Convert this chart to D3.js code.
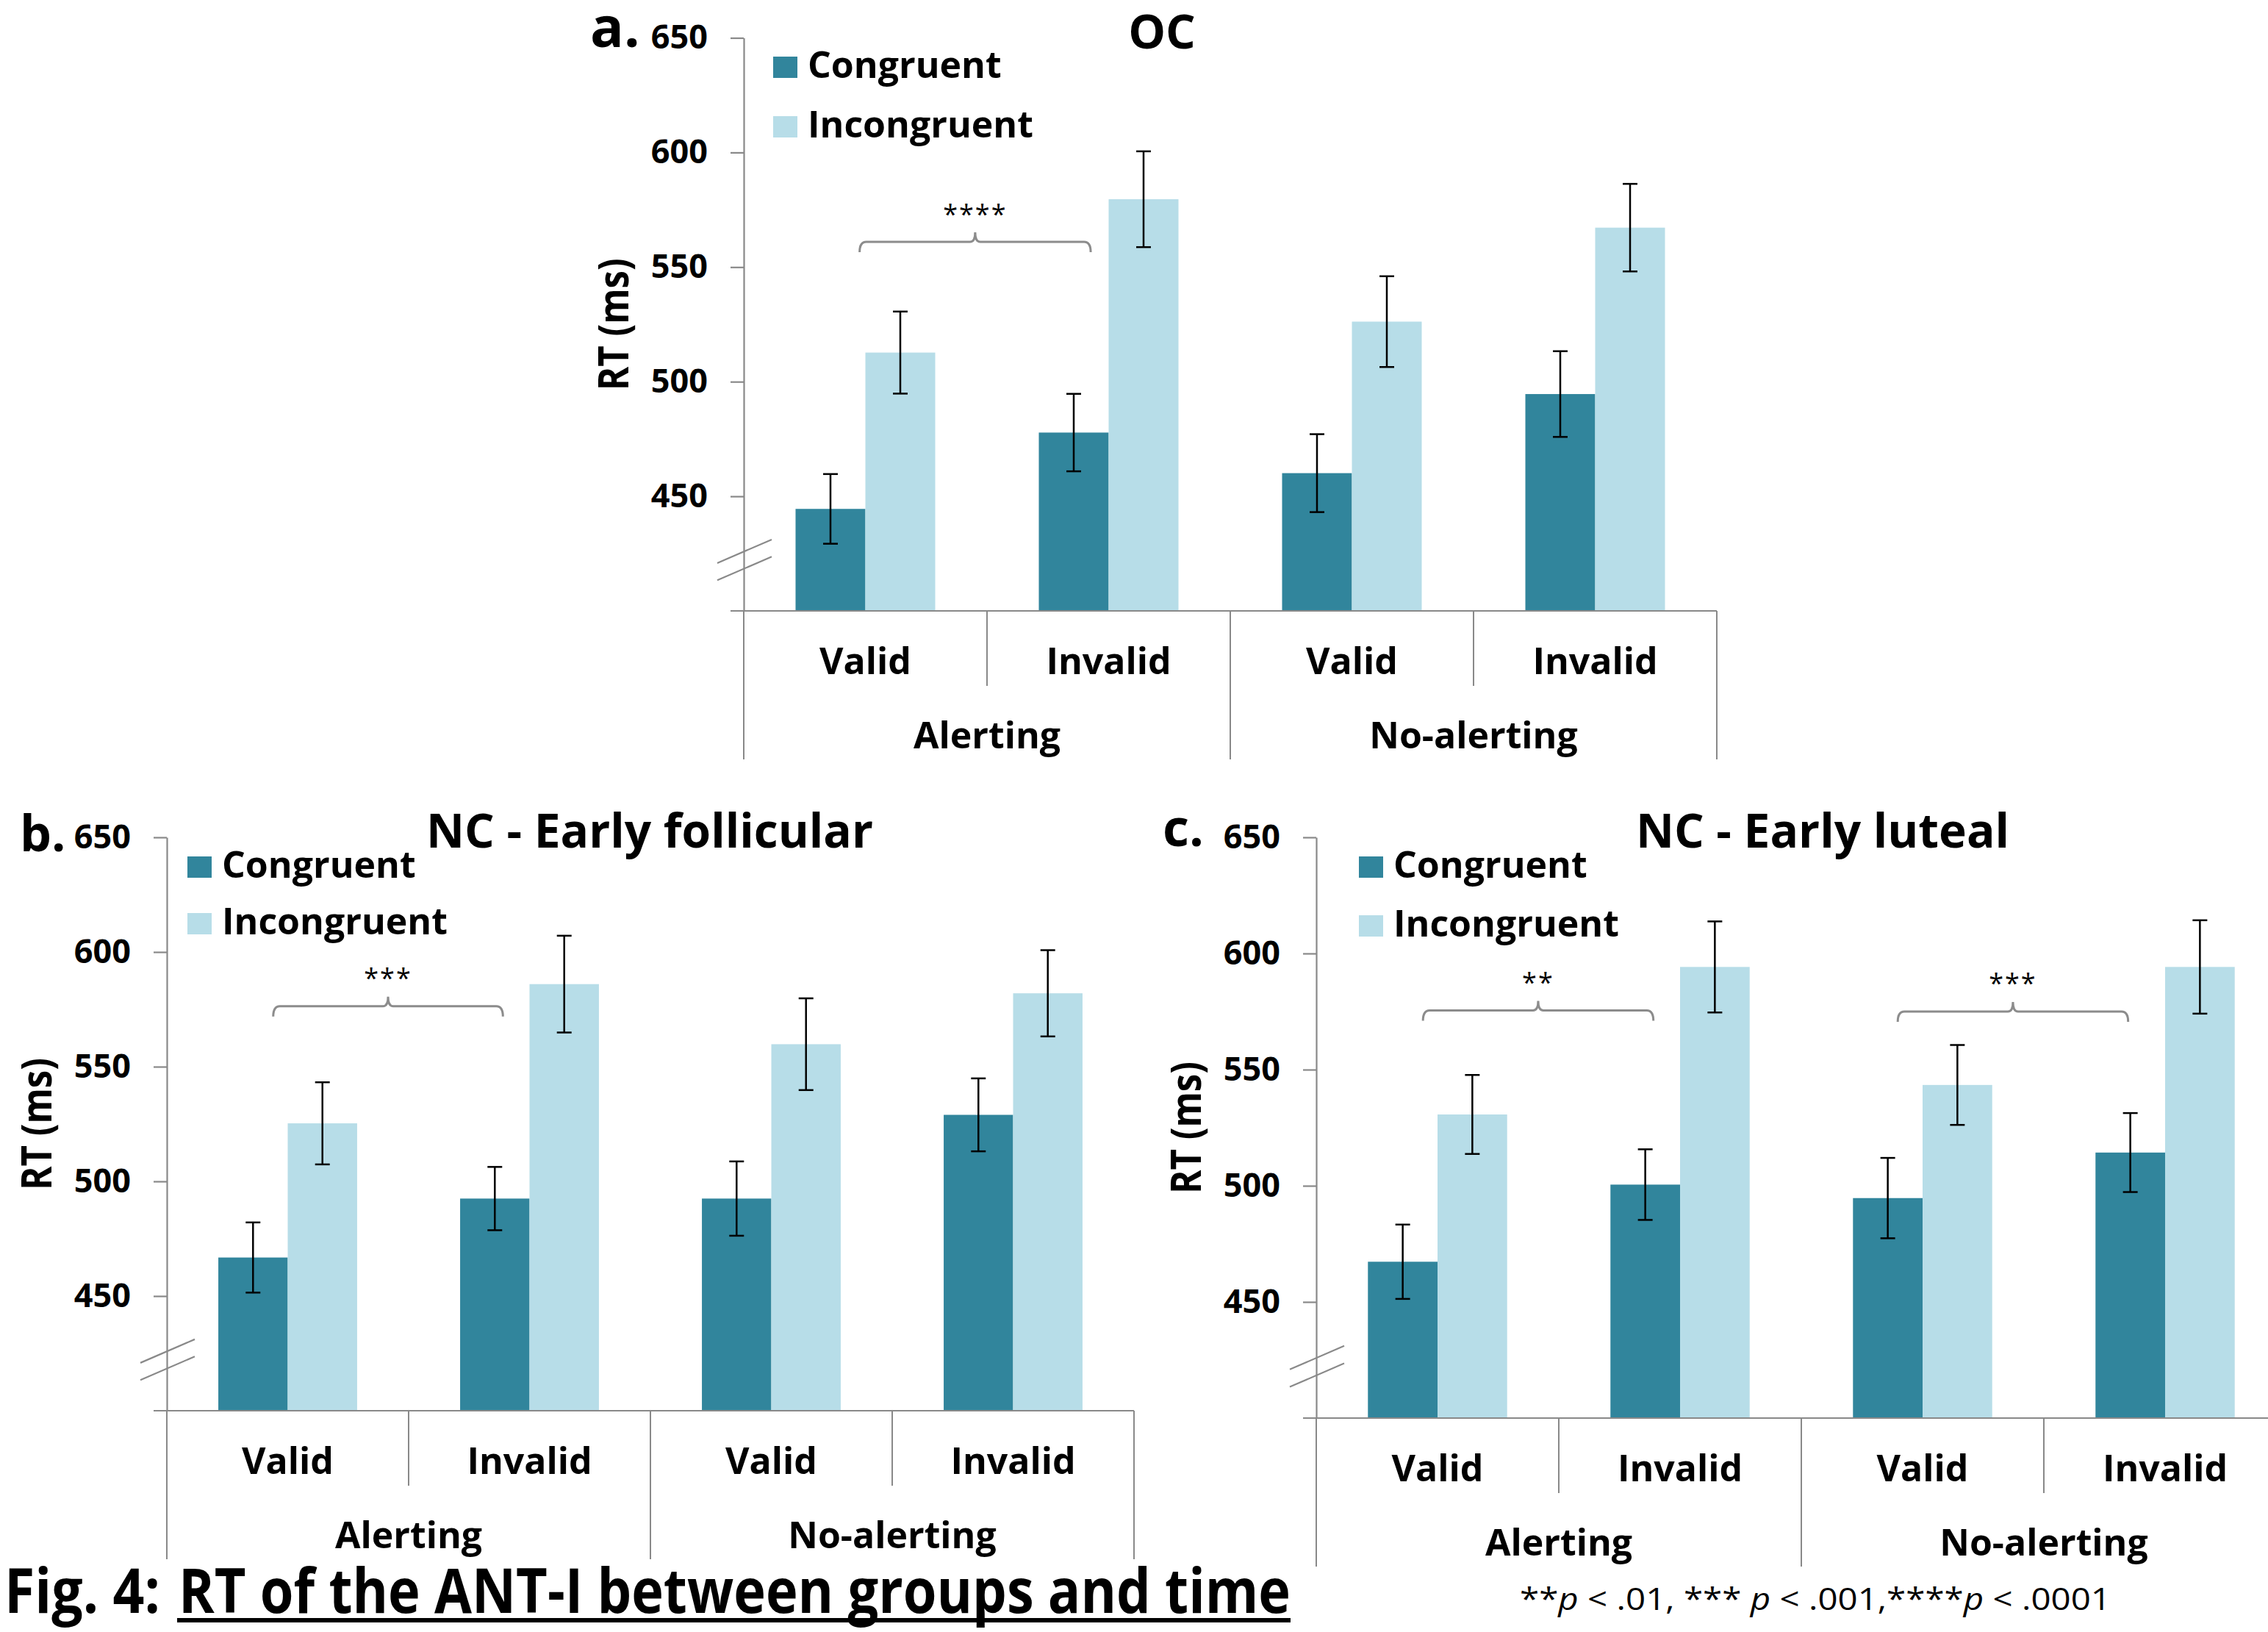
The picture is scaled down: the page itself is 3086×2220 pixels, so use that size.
<!DOCTYPE html>
<html>
<head>
<meta charset="utf-8">
<script src="https://cdn.jsdelivr.net/npm/d3@7"></script>
<style>
  html, body { margin: 0; padding: 0; background: #fff; }
  svg { display: block; font-family: 'Open Sans', sans-serif; }
</style>
</head>
<body>
<svg id="fig" width="3086" height="2220"></svg>
<script>
// categories shared by the three panels
const groups = ['Alerting', 'No-alerting'];
const cues = ['Valid', 'Invalid'];
const series = ['Congruent', 'Incongruent'];
const yTicks = [450, 500, 550, 600, 650];

// order of values: Alerting-Valid, Alerting-Invalid, No-alerting-Valid, No-alerting-Invalid
// a. OC
const ocCongruent = [444.5, 477.8, 460.1, 494.6];
const ocIncongruent = [512.7, 579.6, 526.2, 567.2];
const ocCongruentErr = [15.2, 16.9, 17.0, 18.7];
const ocIncongruentErr = [17.9, 20.9, 19.8, 19.1];
const ocBrackets = [{ group: 'Alerting', level: 561, stars: '****' }];

// b. NC - Early follicular
const folCongruent = [466.8, 492.5, 492.5, 529.0];
const folIncongruent = [525.3, 586.0, 559.8, 582.0];
const folCongruentErr = [15.3, 13.8, 16.2, 15.9];
const folIncongruentErr = [17.9, 21.1, 20.0, 18.8];
const folBrackets = [{ group: 'Alerting', level: 576.4, stars: '***' }];

// c. NC - Early luteal
const lutCongruent = [467.3, 500.5, 494.7, 514.3];
const lutIncongruent = [530.7, 594.2, 543.4, 594.2];
const lutCongruentErr = [16.0, 15.2, 17.3, 17.0];
const lutIncongruentErr = [17.0, 19.6, 17.2, 20.1];
const lutBrackets = [
  { group: 'Alerting', level: 575.5, stars: '**' },
  { group: 'No-alerting', level: 575, stars: '***' }
];

const colors = { Congruent: '#31859c', Incongruent: '#b7dde8' };
const axisColor = '#898989';

// layout of each panel on the page
const panels = [
  { letter: 'a.', title: 'OC', cong: ocCongruent, incong: ocIncongruent,
    congErr: ocCongruentErr, incongErr: ocIncongruentErr, brackets: ocBrackets,
    bracketShift: [12],
    x0: 1012, band: 331, yTop: 51.5, yBase: 831,
    letterPos: [803, 64, 76], titlePos: [1581, 66], legend: [1052, 106, 81] },
  { letter: 'b.', title: 'NC - Early follicular', cong: folCongruent, incong: folIncongruent,
    congErr: folCongruentErr, incongErr: folIncongruentErr, brackets: folBrackets,
    bracketShift: [0],
    x0: 227, band: 329, yTop: 1139, yBase: 1919,
    letterPos: [27, 1158, 68], titlePos: [884, 1153], legend: [255, 1194, 77] },
  { letter: 'c.', title: 'NC - Early luteal', cong: lutCongruent, incong: lutIncongruent,
    congErr: lutCongruentErr, incongErr: lutIncongruentErr, brackets: lutBrackets,
    bracketShift: [0, -14],
    x0: 1791, band: 330, yTop: 1139, yBase: 1929,
    letterPos: [1582, 1151, 70], titlePos: [2480, 1153], legend: [1849, 1194, 80] }
];

const svg = d3.select('#fig');
svg.append('rect').attr('width', 3086).attr('height', 2220).attr('fill', '#fff');

function drawPanel(p) {
  const g = svg.append('g');
  const keys = d3.cross(groups, cues).map(([gr, c]) => gr + '|' + c);

  const x = d3.scaleBand().domain(keys).range([p.x0, p.x0 + p.band * keys.length]);
  const xs = d3.scaleBand().domain(series).range([0, x.bandwidth()]).paddingOuter(0.742);
  const y = d3.scaleLinear().domain([400, 650]).range([p.yBase, p.yTop]);
  const bw = x.bandwidth();

  const rows = keys.map((k, i) => ({
    key: k,
    values: [
      { s: 'Congruent', v: p.cong[i], e: p.congErr[i] },
      { s: 'Incongruent', v: p.incong[i], e: p.incongErr[i] }
    ]
  }));

  // bars
  const cat = g.selectAll('.cat').data(rows).enter().append('g')
    .attr('class', 'cat')
    .attr('transform', d => `translate(${x(d.key)},0)`);

  cat.selectAll('rect').data(d => d.values).enter().append('rect')
    .attr('x', d => xs(d.s))
    .attr('width', xs.bandwidth())
    .attr('y', d => y(d.v))
    .attr('height', d => y(400) - y(d.v))
    .attr('fill', d => colors[d.s]);

  // error bars
  const err = cat.selectAll('.err').data(d => d.values).enter().append('g')
    .attr('class', 'err')
    .attr('stroke', '#000').attr('stroke-width', 2.5);
  err.append('line')
    .attr('x1', d => xs(d.s) + xs.bandwidth() / 2).attr('x2', d => xs(d.s) + xs.bandwidth() / 2)
    .attr('y1', d => y(d.v + d.e)).attr('y2', d => y(d.v - d.e));
  err.selectAll('.cap').data(d => [[d, d.v + d.e], [d, d.v - d.e]]).enter().append('line')
    .attr('x1', d => xs(d[0].s) + xs.bandwidth() / 2 - 10)
    .attr('x2', d => xs(d[0].s) + xs.bandwidth() / 2 + 10)
    .attr('y1', d => y(d[1])).attr('y2', d => y(d[1]));

  // y axis
  const yAxis = g.append('g')
    .attr('transform', `translate(${p.x0},0)`)
    .call(d3.axisLeft(y).tickValues(yTicks).tickSize(18).tickSizeOuter(0).tickPadding(31));
  yAxis.select('.domain').attr('stroke', axisColor).attr('stroke-width', 2.2);
  yAxis.selectAll('.tick line').attr('stroke', axisColor).attr('stroke-width', 2.2);
  yAxis.selectAll('.tick text')
    .attr('fill', '#000').attr('font-size', 45).attr('font-weight', 700)
    .attr('font-family', "'Open Sans', sans-serif");

  // axis break marks
  g.selectAll('.brk').data([426, 418.5]).enter().append('line')
    .attr('x1', p.x0 - 36).attr('x2', p.x0 + 38)
    .attr('y1', d => y(d) + 16).attr('y2', d => y(d) - 16)
    .attr('stroke', axisColor).attr('stroke-width', 2.2);

  // x baseline
  g.append('line')
    .attr('x1', p.x0 - 18).attr('x2', x.range()[1])
    .attr('y1', y(400)).attr('y2', y(400))
    .attr('stroke', axisColor).attr('stroke-width', 2.2);

  // hierarchical category dividers
  const edges = keys.map(k => x(k)).concat([x.range()[1]]);
  g.selectAll('.div').data(edges).enter().append('line')
    .attr('x1', d => d).attr('x2', d => d)
    .attr('y1', y(400))
    .attr('y2', (d, i) => y(400) + (i % 2 === 0 ? 202 : 102))
    .attr('stroke', axisColor).attr('stroke-width', 2);

  g.selectAll('.cue').data(keys).enter().append('text')
    .attr('x', d => x(d) + bw / 2)
    .attr('y', y(400) + 68)
    .attr('dy', '0.36em')
    .attr('text-anchor', 'middle')
    .attr('font-size', 50).attr('font-weight', 700)
    .text(d => d.split('|')[1]);

  g.selectAll('.grp').data(groups).enter().append('text')
    .attr('x', d => x(d + '|' + cues[0]) + bw)
    .attr('y', y(400) + 169)
    .attr('dy', '0.36em')
    .attr('text-anchor', 'middle')
    .attr('font-size', 50).attr('font-weight', 700)
    .text(d => d);

  // significance brackets
  p.brackets.forEach((b, j) => {
    const sh = p.bracketShift[j] || 0;
    const x1 = x(b.group + '|' + cues[0]) + bw / 2 - 0.06 * bw + sh;
    const x2 = x(b.group + '|' + cues[1]) + bw / 2 - 0.11 * bw + sh;
    const xm = (x1 + x2) / 2;
    const yl = y(b.level);
    g.append('path')
      .attr('d', `M${x1},${yl + 14} Q${x1},${yl} ${x1 + 9},${yl} L${xm - 7},${yl} ` +
                 `Q${xm},${yl} ${xm},${yl - 13} Q${xm},${yl} ${xm + 7},${yl} ` +
                 `L${x2 - 9},${yl} Q${x2},${yl} ${x2},${yl + 14}`)
      .attr('fill', 'none').attr('stroke', '#8c8c8c').attr('stroke-width', 3);
    g.append('text')
      .attr('x', xm)
      .attr('y', y(b.level + 14.5) + 20)
      .attr('text-anchor', 'middle')
      .attr('font-size', 36).attr('letter-spacing', 2)
      .text(b.stars);
  });

  // legend
  series.forEach((s, i) => {
    const [lx, lb, gap] = p.legend;
    g.append('rect')
      .attr('x', lx).attr('y', lb + i * gap - 29)
      .attr('width', 33).attr('height', 29)
      .attr('fill', colors[s]);
    g.append('text')
      .attr('x', lx + 47).attr('y', lb + i * gap)
      .attr('font-size', 50).attr('font-weight', 700)
      .text(s);
  });

  // title, panel letter, y title
  g.append('text')
    .attr('x', p.titlePos[0]).attr('y', p.titlePos[1])
    .attr('text-anchor', 'middle')
    .attr('font-size', 64).attr('font-weight', 700)
    .text(p.title);

  g.append('text')
    .attr('x', p.letterPos[0]).attr('y', p.letterPos[1])
    .attr('font-size', p.letterPos[2]).attr('font-weight', 700)
    .text(p.letter);

  g.append('text')
    .attr('transform', `translate(${p.x0 - 178},${y(525)}) rotate(-90)`)
    .attr('text-anchor', 'middle')
    .attr('dy', '0.36em')
    .attr('font-size', 58).attr('font-weight', 700)
    .attr('textLength', 180).attr('lengthAdjust', 'spacingAndGlyphs')
    .text('RT (ms)');
}

panels.forEach(drawPanel);

// figure caption
svg.append('text')
  .attr('x', 6).attr('y', 2194)
  .attr('font-size', 84).attr('font-weight', 700)
  .attr('textLength', 212).attr('lengthAdjust', 'spacingAndGlyphs')
  .text('Fig. 4:');
svg.append('text')
  .attr('x', 243).attr('y', 2194)
  .attr('font-size', 84).attr('font-weight', 700)
  .attr('textLength', 1513).attr('lengthAdjust', 'spacingAndGlyphs')
  .text('RT of the ANT-I between groups and time');
svg.append('rect')
  .attr('x', 241).attr('y', 2201).attr('width', 1515).attr('height', 6)
  .attr('fill', '#000');

// significance footnote
const note = svg.append('text')
  .attr('x', 2068).attr('y', 2190)
  .attr('font-size', 42)
  .attr('textLength', 804).attr('lengthAdjust', 'spacingAndGlyphs');
[['**', false], ['p', true], [' < .01, *** ', false], ['p', true],
 [' < .001,****', false], ['p', true], [' < .0001', false]].forEach(([t, it]) => {
  note.append('tspan').attr('font-style', it ? 'italic' : 'normal').text(t);
});
</script>
</body>
</html>
